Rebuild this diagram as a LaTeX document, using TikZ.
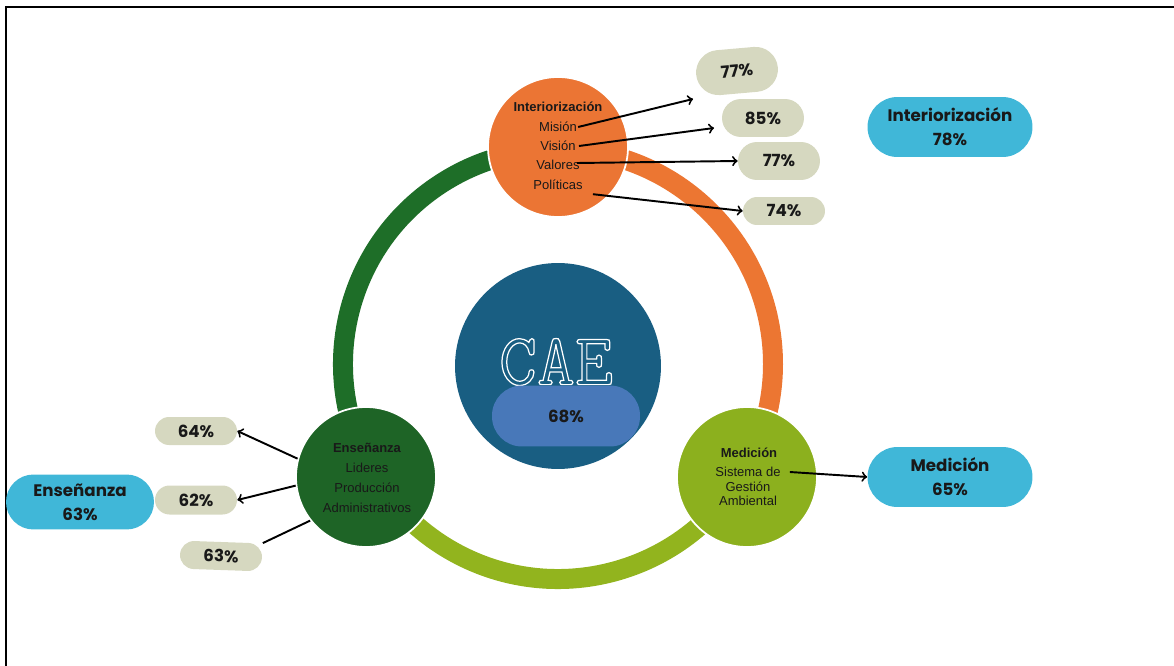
\documentclass[tikz,border=0pt]{standalone}
\usepackage{fontspec}
\setmainfont{Liberation Sans}
\newfontfamily\pillfont{Poppins}
\usetikzlibrary{calc}
\definecolor{ringgreen}{RGB}{30,110,40}
\definecolor{ringorange}{RGB}{236,118,50}
\definecolor{ringlime}{RGB}{146,180,30}
\definecolor{stageorange}{RGB}{235,117,52}
\definecolor{stagegreen}{RGB}{30,100,38}
\definecolor{stagelime}{RGB}{140,176,30}
\definecolor{caeblue}{RGB}{25,94,130}
\definecolor{caepill}{RGB}{72,120,185}
\definecolor{totalblue}{RGB}{64,183,216}
\definecolor{scoregray}{RGB}{214,216,192}
\definecolor{inkdark}{RGB}{25,25,25}
\tikzstyle{stage}=[circle,draw=white,line width=1pt,minimum size=2.8cm,inner sep=0pt]
\tikzstyle{item}=[inner sep=0pt,text=inkdark,font=\fontsize{7.4}{8}\selectfont]
\tikzstyle{head}=[inner sep=0pt,text=inkdark,font=\bfseries\fontsize{7.4}{8}\selectfont]
\tikzstyle{score}=[rectangle,fill=scoregray,minimum width=1.64cm,minimum height=0.6cm,rounded corners=0.3cm,text=inkdark,font=\pillfont\bfseries\fontsize{9.5}{10}\selectfont]
\tikzstyle{total}=[rectangle,fill=totalblue,minimum width=3.3cm,minimum height=1.2cm,rounded corners=0.6cm,align=center,text=inkdark,font=\pillfont\bfseries\fontsize{9.5}{13.6}\selectfont]
\tikzstyle{link}=[->,line width=1.1pt]
\def\ringarc[#1](#2:#3)% Syntax: [colour] (start angle:end angle), radius 215 round (ring)
    { \draw[#1,line width=0.4cm] ($(ring)+(#2:215)$) arc (#2:#3:215); }
\begin{document}
\begin{tikzpicture}[x=0.02cm,y=-0.02cm]
\useasboundingbox (0,0) rectangle (1174,666);
\draw[line width=0.8pt] (6,666) -- (6,7) -- (1174,7);
% ring
\coordinate (ring) at (558,364);
\ringarc[ringgreen](150:270)
\ringarc[ringorange](270:390)
\ringarc[ringlime](30:150)
% centre
\node[circle,fill=caeblue,minimum size=4.12cm] (cae) at (558,366) {};
\node[text=white,inner sep=0pt] (caeword) at (556,362)
  {\ttfamily\fontsize{42}{44}\selectfont\special{pdf:literal direct 1 Tr 0.7 w}CAE\special{pdf:literal direct 0 Tr}};
\node[score,fill=caepill,minimum width=2.96cm,minimum height=1.22cm,rounded corners=0.6cm] (caescore) at (566,416) {68\%};
% stages
\node[stage,fill=stageorange] (inter) at (558,147) {};
\node[stage,fill=stagegreen] (ens) at (366,477) {};
\node[stage,fill=stagelime] (med) at (747,477) {};
\node[head] (intertitle) at (558,107) {Interiorización};
\node[item] (mision) at (558,127) {Misión};
\node[item] (vision) at (558,146) {Visión};
\node[item] (valores) at (558,165) {Valores};
\node[item] (politicas) at (558,185) {Políticas};
\node[head] (enstitle) at (367,448) {Enseñanza};
\node[item] (lideres) at (367,468) {Lideres};
\node[item] (produccion) at (367,488) {Producción};
\node[item] (admin) at (367,508) {Administrativos};
\node[head] (medtitle) at (749,453) {Medición};
\node[item] (sistema) at (748,472) {Sistema de};
\node[item] (gestion) at (748,487) {Gestión};
\node[item] (ambiental) at (748,501) {Ambiental};
% scores
\node[score,minimum height=0.9cm,rounded corners=0.45cm,rotate=5] (misionscore) at (737,71) {77\%};
\node[score,minimum height=0.76cm,rounded corners=0.38cm] (visionscore) at (763,118) {85\%};
\node[score,minimum height=0.76cm,rounded corners=0.38cm] (valoresscore) at (779,161) {77\%};
\node[score,minimum height=0.56cm,rounded corners=0.28cm] (politicasscore) at (784,211) {74\%};
\node[score,minimum height=0.56cm,rounded corners=0.28cm] (liderscore) at (196,431) {64\%};
\node[score,minimum height=0.58cm,rounded corners=0.29cm] (prodscore) at (196,500) {62\%};
\node[score,minimum height=0.56cm,rounded corners=0.28cm,rotate=-2] (adminscore) at (221,556) {63\%};
\node[total] (intertotal) at (950,127) {Interiorización\\78\%};
\node[total] (medtotal) at (950,477) {Medición\\65\%};
\node[total,minimum width=2.96cm,minimum height=1.1cm,rounded corners=0.55cm] (enstotal) at (80,502) {Enseñanza\\63\%};
% arrows
\coordinate (misiontip) at (693,99);
\coordinate (visiontip) at (714,128);
\draw[link] ($(mision.east)+(1,0)$) -- (misiontip);
\draw[link] ($(vision.east)+(3,0)$) -- (visiontip);
\draw[link] ($(valores.east)+(-3,-2)$) -- (valoresscore.west);
\draw[link] ($(politicas.south east)+(10,4)$) -- (politicasscore.west);
\draw[link] (ens.165) -- (liderscore.east);
\draw[link] (ens.187) -- (prodscore.east);
\draw[line width=1.1pt] (ens.218) -- (adminscore.north east);
\draw[link] ($(sistema.east)+(9,0)$) -- (medtotal.west);
\end{tikzpicture}
\end{document}
